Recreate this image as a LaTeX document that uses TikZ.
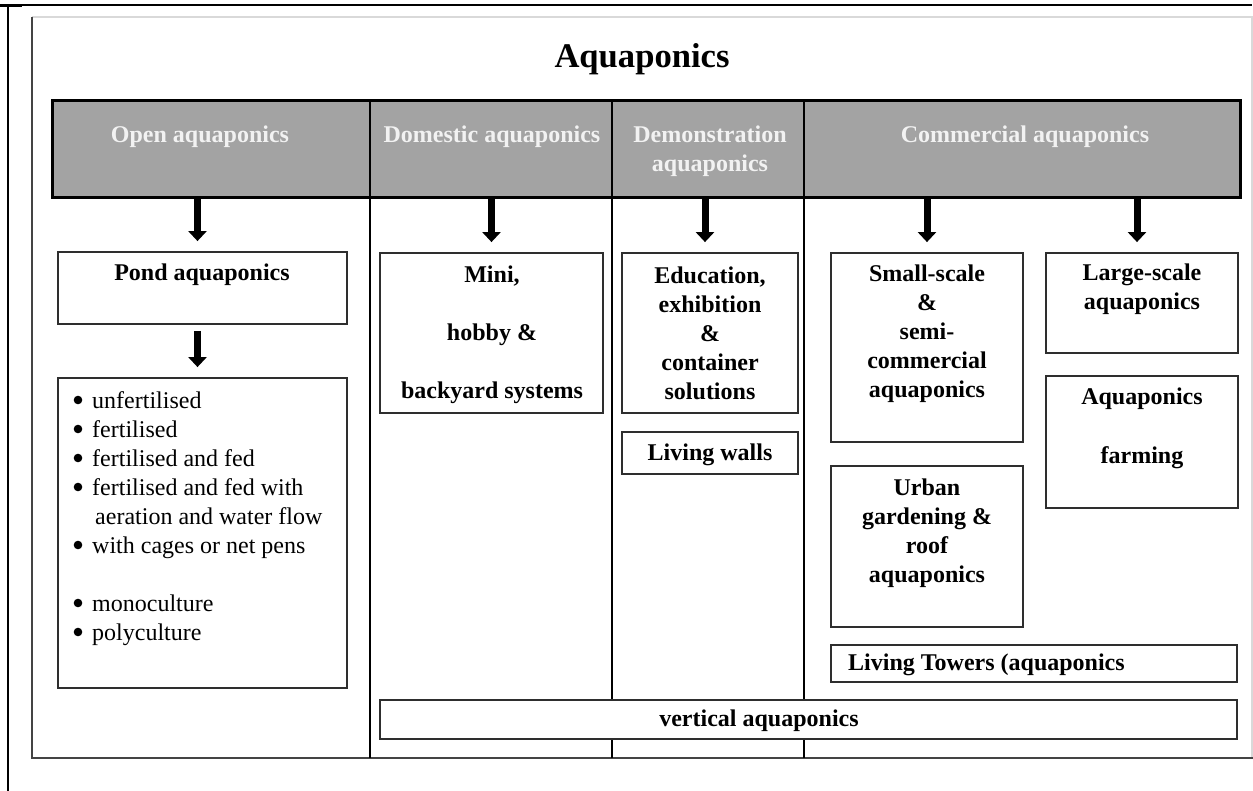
\documentclass[tikz,border=0pt]{standalone}
\usepackage{fontspec}
\setmainfont{Liberation Serif}
\usetikzlibrary{arrows.meta}
\definecolor{hdr}{HTML}{A3A3A3}
\definecolor{hdrtxt}{HTML}{F2F2F2}
\definecolor{bord}{HTML}{2E2E2E}
\definecolor{lightframe}{HTML}{D9D9D9}
\definecolor{darkframe}{HTML}{444444}
\newcommand{\bl}{\hspace*{20bp}}
\begin{document}
\begin{tikzpicture}[x=1bp,y=-1bp,
  box/.style={draw=bord, fill=white, line width=1.8bp, inner sep=0pt},
  boxtext/.style={align=center, inner sep=0pt, font=\bfseries\fontsize{24bp}{29bp}\selectfont},
  hdrtext/.style={align=center, inner sep=0pt, text=hdrtxt, font=\bfseries\fontsize{24bp}{29bp}\selectfont},
  divider/.style={draw=black, line width=1.6bp},
  bulletdot/.style={fill=black},
  arr/.style={line width=7bp, -{Triangle[width=18bp,length=10bp]}}]
\useasboundingbox (0,0) rectangle (1253,791);
\fill[white] (0,0) rectangle (1253,791);
% frames
\draw[line width=3bp] (0,6) -- (22,6);
\draw[line width=2bp] (8,5) -- (1252,5);
\draw[line width=2.2bp] (8,5) -- (8,791);
\draw[lightframe, line width=1.5bp] (32,17) -- (1252,17) -- (1252,758);
\draw[darkframe, line width=2bp] (32,17) -- (32,758) -- (1253,758);
% title
\node[inner sep=0pt, font=\bfseries\fontsize{34.6bp}{40bp}\selectfont] (title) at (642,59) {Aquaponics};
% header
\node[draw=black, line width=3bp, fill=hdr, minimum width=1187bp, minimum height=96bp, inner sep=0pt] (header) at (646.5,149) {};
\draw[divider] (370,101) -- (370,758);
\draw[divider] (612,101) -- (612,758);
\draw[divider] (804,101) -- (804,758);
\node[hdrtext] (hopen) at (200,137) {Open aquaponics};
\node[hdrtext] (hdom) at (492,137) {Domestic aquaponics};
\node[hdrtext] (hdemo) at (710,151.5) {Demonstration\\aquaponics};
\node[hdrtext] (hcom) at (1025,137) {Commercial aquaponics};
% boxes
\node[box, minimum width=289bp, minimum height=72bp] (pond) at (202.5,288) {};
\node[box, minimum width=289bp, minimum height=310bp] (listbox) at (202.5,533) {};
\node[box, minimum width=223bp, minimum height=160bp] (mini) at (491.5,333) {};
\node[box, minimum width=176bp, minimum height=160bp] (edu) at (710,333) {};
\node[box, minimum width=176bp, minimum height=42bp] (walls) at (710,453) {};
\node[box, minimum width=192bp, minimum height=189bp] (small) at (927,347.5) {};
\node[box, minimum width=192bp, minimum height=100bp] (large) at (1142,303) {};
\node[box, minimum width=192bp, minimum height=132bp] (farm) at (1142,442) {};
\node[box, minimum width=192bp, minimum height=161bp] (urban) at (927,546.5) {};
\node[box, minimum width=406bp, minimum height=37bp] (towers) at (1034,663.5) {};
\node[box, minimum width=857bp, minimum height=39bp] (vert) at (808.5,719.5) {};
% texts
\node[boxtext] (tpond) at (202,275) {Pond aquaponics};
\node[anchor=west, align=left, inner sep=0pt, font=\fontsize{24bp}{29bp}\selectfont] (tlist) at (72,519) {%
\bl unfertilised\\
\bl fertilised\\
\bl fertilised and fed\\
\bl fertilised and fed with\\
\hspace*{23bp}aeration and water flow\\
\bl with cages or net pens\\[29bp]
\bl monoculture\\
\bl polyculture};
\foreach \yy in {400,429,458,487,545,603,632}
  \fill[bulletdot] (78,\yy) circle (4.3bp);
\node[boxtext] (tmini) at (492,334.5) {Mini,\\[29bp]hobby \&\\[29bp]backyard systems};
\node[boxtext] (tedu) at (710,333.5) {Education,\\exhibition\\\&\\container\\solutions};
\node[boxtext] (twalls) at (710,455) {Living walls};
\node[boxtext] (tsmall) at (927,333.5) {Small-scale\\\&\\semi-\\commercial\\aquaponics};
\node[boxtext] (tlarge) at (1142,289.5) {Large-scale\\aquaponics};
\node[boxtext] (tfarm) at (1142,428.5) {Aquaponics\\[30bp]farming};
\node[boxtext] (turban) at (927,533) {Urban\\gardening \&\\roof\\aquaponics};
\node[boxtext, anchor=west] (ttowers) at (848,665) {Living Towers (aquaponics};
\node[boxtext] (tvert) at (759,721) {vertical aquaponics};
% arrows
\draw[arr] ([xshift=-5bp]pond.north |- header.south) -- ([xshift=-5bp,yshift=10bp]pond.north);
\draw[arr] ([xshift=-5bp,yshift=-6bp]pond.south) -- ([xshift=-5bp,yshift=10bp]listbox.north);
\draw[arr] (mini.north |- header.south) -- ([yshift=10bp]mini.north);
\draw[arr] ([xshift=-5bp]edu.north |- header.south) -- ([xshift=-5bp,yshift=10bp]edu.north);
\draw[arr] (small.north |- header.south) -- ([yshift=10bp]small.north);
\draw[arr] ([xshift=-5bp]large.north |- header.south) -- ([xshift=-5bp,yshift=10bp]large.north);
\end{tikzpicture}
\end{document}
